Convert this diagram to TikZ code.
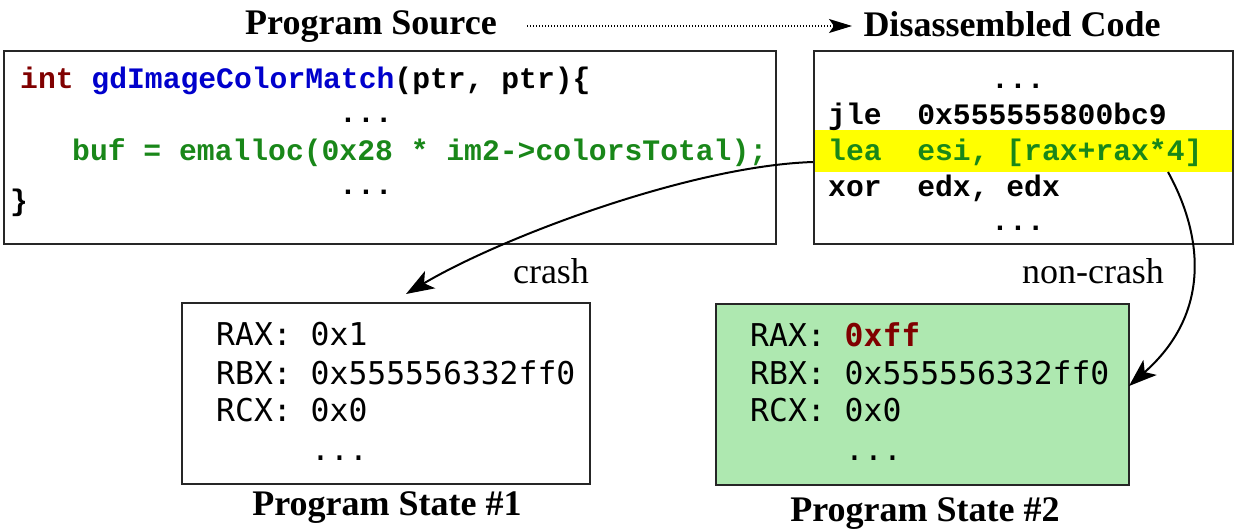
\documentclass[tikz,border=0pt]{standalone}
\usepackage{fontspec}
\setmainfont{Liberation Serif}
\newfontfamily\codefont{Liberation Mono}
\newfontfamily\statefont{DejaVu Sans Mono}
\usetikzlibrary{arrows.meta}
\definecolor{kwred}{RGB}{128,0,0}
\definecolor{fnblue}{RGB}{0,0,204}
\definecolor{codegreen}{RGB}{25,135,25}
\definecolor{hlyellow}{RGB}{255,255,0}
\definecolor{stategreen}{RGB}{174,232,176}
\tikzset{
  box/.style={draw=black!85, line width=2pt},
  title/.style={font=\fontsize{36}{40}\selectfont\bfseries, inner sep=0pt, anchor=base},
  lbl/.style={font=\fontsize{36}{40}\selectfont, inner sep=0pt, anchor=base},
  code/.style={font=\codefont\fontsize{29.7}{32}\selectfont\bfseries, inner sep=0pt, anchor=base west},
  reg/.style={font=\statefont\fontsize{31.4}{34}\selectfont, inner sep=0pt, anchor=base west},
  conn/.style={line width=2pt, -{Stealth[length=28pt,width=20pt,inset=7pt]}},
  dotconn/.style={line width=1.3pt, dash pattern=on 1.3pt off 1.7pt, -{Stealth[length=23pt,width=14pt,inset=5pt]}}
}
\begin{document}
\begin{tikzpicture}[x=1pt,y=-1pt]
\useasboundingbox (0,0) rectangle (1237,528);
% boxes
\node[box, minimum width=772pt, minimum height=193pt, inner sep=0pt, anchor=north west] (src) at (3,50) {};
\fill[hlyellow] (813,130) rectangle (1232,172);
\node[box, minimum width=419pt, minimum height=193pt, inner sep=0pt, anchor=north west] (dis) at (813,50) {};
\node[box, minimum width=408pt, minimum height=181pt, inner sep=0pt, anchor=north west] (s1) at (181,302) {};
\node[box, fill=stategreen, minimum width=413pt, minimum height=181pt, inner sep=0pt, anchor=north west] (s2) at (715,303) {};
% titles
\node[title] (tsrc) at (371,34) {Program Source};
\node[title] (tdis) at (1012,36) {Disassembled Code};
\node[title] (ts1) at (387,515) {Program State \#1};
\node[title] (ts2) at (925,521) {Program State \#2};
% source code
\node[code] (c1) at (20,88) {\textcolor{kwred}{int} \textcolor{fnblue}{gdImageColorMatch}(ptr, ptr)\{};
\node[code] (c2) at (339,122) {...};
\node[code, text=codegreen] (c3) at (72,160) {buf = emalloc(0x28 * im2->colorsTotal);};
\node[code] (c4) at (339,194) {...};
\node[code] (c5) at (10,210) {\}};
% disassembly
\node[code] (d1) at (991,88) {...};
\node[code] (d2) at (828,124) {jle\ \ 0x555555800bc9};
\node[code, text=codegreen] (d3) at (828,160) {lea\ \ esi, [rax+rax*4]};
\node[code] (d4) at (828,196) {xor\ \ edx, edx};
\node[code] (d5) at (991,230) {...};
% state 1
\node[reg] (a1) at (216,345) {RAX: 0x1};
\node[reg] (a2) at (216,384) {RBX: 0x555556332ff0};
\node[reg] (a3) at (216,421) {RCX: 0x0};
\node[reg] (a4) at (311,460) {...};
% state 2
\node[reg] (b1) at (750,346) {RAX: \textcolor{kwred}{\bfseries 0xff}};
\node[reg] (b2) at (750,384) {RBX: 0x555556332ff0};
\node[reg] (b3) at (750,421) {RCX: 0x0};
\node[reg] (b4) at (845,460) {...};
% labels
\node[lbl] (lc) at (551,283) {crash};
\node[lbl] (ln) at (1093,283) {non-crash};
% connectors
\coordinate (crashstart) at (813,162);
\coordinate (crashend) at (406,294);
\coordinate (ncstart) at (1168,172);
\coordinate (ncend) at (1129,386);
\coordinate (dstart) at (527,26);
\coordinate (dend) at (852,26);
\draw[dotconn] (dstart) -- (dend);
\draw[conn] (crashstart) .. controls (690,166) and (500,238) .. (crashend);
\draw[conn] (ncstart) .. controls (1200,230) and (1215,310) .. (ncend);
\end{tikzpicture}
\end{document}
